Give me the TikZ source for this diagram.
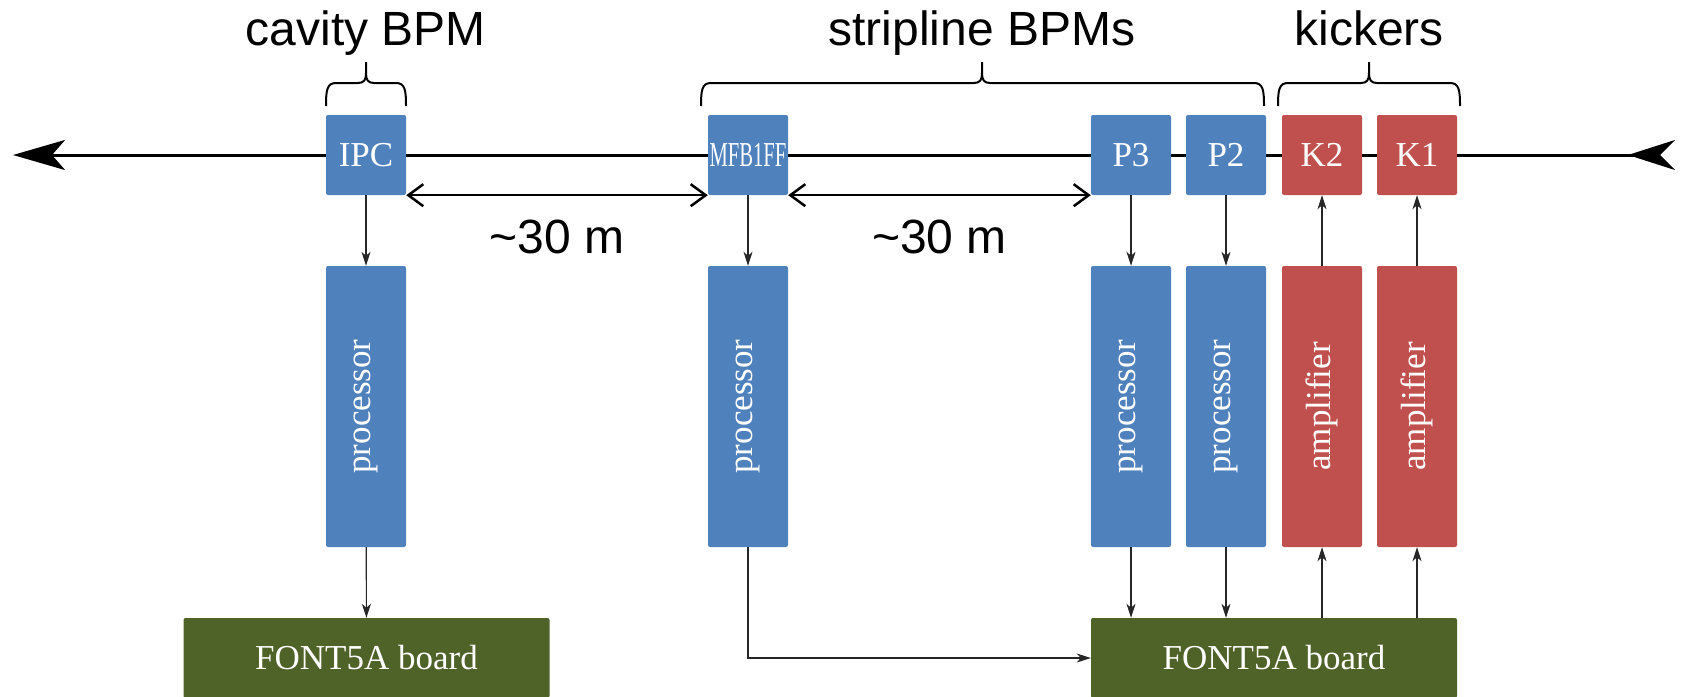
\documentclass[tikz,border=0pt]{standalone}
\usepackage{fontspec}
\usepackage{graphicx}
\setmainfont{Liberation Serif}
\setsansfont{Liberation Sans}
\usetikzlibrary{arrows.meta,calc}

\definecolor{bpmblue}{HTML}{4F81BD}
\definecolor{kickred}{HTML}{C0504D}
\definecolor{boardgreen}{HTML}{4F6228}

% curly brace opening downwards: left end, right end, tip position
\newcommand\drawbrace[3]{%
  \draw[brace] (#1,106) .. controls (#1,90) and (#1+1,83) .. (#1+10,83)
      -- (#3-8,83) .. controls (#3-2,83) and (#3,80) .. (#3,73) -- (#3,62)
    (#3,73) .. controls (#3,80) and (#3+2,83) .. (#3+8,83)
      -- (#2-10,83) .. controls (#2-1,83) and (#2,90) .. (#2,106);}

\begin{document}
\begin{tikzpicture}[x=1pt,y=-1pt,
  box/.style={rounded corners=2pt, inner sep=0pt, text=white,
    font=\fontsize{35}{40}\selectfont, minimum width=80pt, minimum height=80pt},
  bpm/.style={box, fill=bpmblue},
  kick/.style={box, fill=kickred},
  tall/.style={minimum height=281pt},
  board/.style={box, fill=boardgreen, minimum width=366pt},
  sig/.style={line width=1.2pt, draw=black!85, -{Stealth[length=14pt,width=9pt,inset=4pt]}},
  beam/.style={line width=3pt},
  dist/.style={line width=2.5pt, {Straight Barb[length=15pt,width=22pt]}-{Straight Barb[length=15pt,width=22pt]}},
  brace/.style={line width=2pt},
  title/.style={font=\sffamily\fontsize{48}{56}\selectfont, anchor=base, inner sep=0pt},
]
\useasboundingbox (0,0) rectangle (1683,696);

% beam line
\coordinate (beamL) at (13,155);
\coordinate (beamR) at (1675,155);
\draw[beam, {Stealth[length=47pt,width=30pt,inset=15pt,reversed]}-{Stealth[length=52pt,width=30pt,inset=13pt]}] (beamR) -- (beamL);

% pickups and kickers on the beam line
\node[bpm] (ipc) at (366,155) {IPC};
\node[bpm] (mfb) at (748,155) {\scalebox{0.59}[1]{MFB1FF}};
\node[bpm] (p3)  at (1131,155) {P3};
\node[bpm] (p2)  at (1226,155) {P2};
\node[kick] (k2) at (1322,155) {K2};
\node[kick] (k1) at (1417,155) {K1};

% processors and amplifiers
\node[bpm,tall] (ipcproc) at (366,406.5) {\rotatebox{90}{processor}};
\node[bpm,tall] (mfbproc) at (748,406.5) {\rotatebox{90}{processor}};
\node[bpm,tall] (p3proc)  at (1131,406.5) {\rotatebox{90}{processor}};
\node[bpm,tall] (p2proc)  at (1226,406.5) {\rotatebox{90}{processor}};
\node[kick,tall] (k2amp)  at (1322,406.5) {\rotatebox{90}{amplifier}};
\node[kick,tall] (k1amp)  at (1417,406.5) {\rotatebox{90}{amplifier}};

% feedback boards
\node[board] (boardA) at (366.5,658) {FONT5A board};
\node[board] (boardB) at (1274,658) {FONT5A board};

% signal paths
\draw[sig] (ipc) -- (ipcproc);
\draw[sig] (ipcproc) -- (boardA);
\draw[sig] (mfb) -- (mfbproc);
\draw[sig] (mfbproc.south) |- (boardB.west);
\draw[sig] (p3) -- (p3proc);
\draw[sig] (p2) -- (p2proc);
\draw[sig] (p3proc.south) -- (p3proc.south |- boardB.north);
\draw[sig] (p2proc.south) -- (p2proc.south |- boardB.north);
\draw[sig] (k2amp.south |- boardB.north) -- (k2amp.south);
\draw[sig] (k1amp.south |- boardB.north) -- (k1amp.south);
\draw[sig] (k2amp) -- (k2);
\draw[sig] (k1amp) -- (k1);

% distances
\draw[dist] (ipc.south east) -- (mfb.south west);
\draw[dist] (mfb.south east) -- (p3.south west);
\node[title] (d1) at (557,253) {\textasciitilde30 m};
\node[title] (d2) at (939.5,253) {\textasciitilde30 m};

% groups
\drawbrace{326}{406}{366}
\drawbrace{701}{1264}{982}
\drawbrace{1278}{1460}{1369}
\node[title] (tcav) at (366,45) {cavity BPM};
\node[title] (tstr) at (982,45) {stripline BPMs};
\node[title] (tkick) at (1369,45) {kickers};
\end{tikzpicture}
\end{document}
